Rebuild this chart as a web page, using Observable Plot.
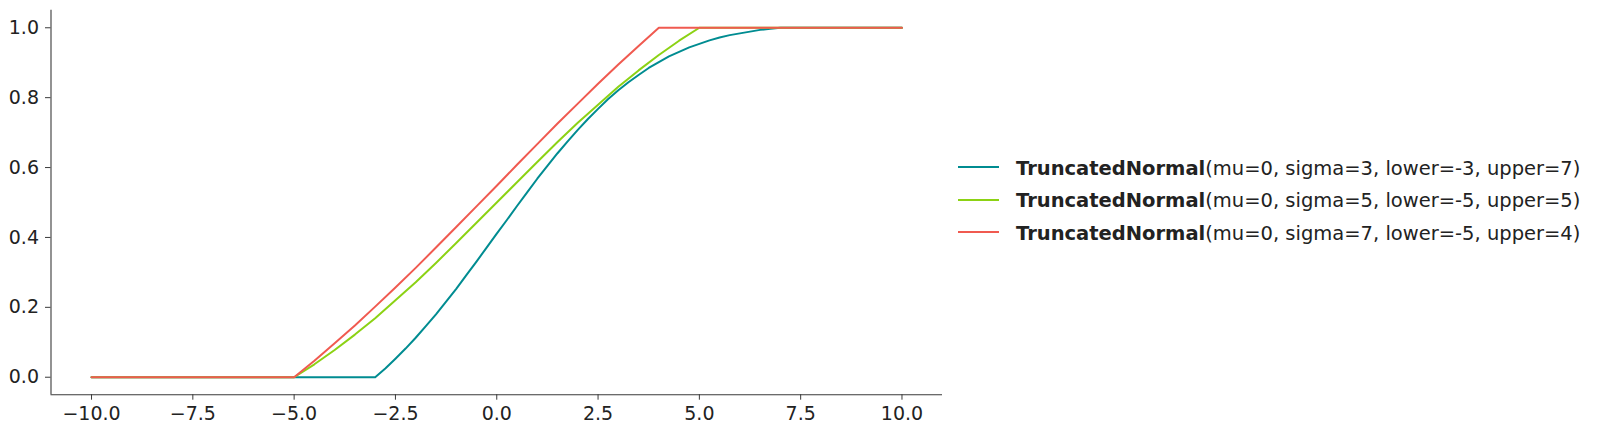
<!DOCTYPE html>
<html>
<head>
<meta charset="utf-8">
<script src="https://cdn.jsdelivr.net/npm/d3@7"></script>
<script src="https://cdn.jsdelivr.net/npm/@observablehq/plot@0.6"></script>
<style>
  html, body { margin: 0; padding: 0; background: #fff; }
  #wrap { position: relative; width: 1598px; height: 433px; font-family: "DejaVu Sans", sans-serif; }
  #legend { position: absolute; left: 958px; top: 151px; color: #222; font-size: 19.5px; }
  .row { display: flex; align-items: center; height: 32.6px; }
  .swatch { width: 41px; height: 0; border-top: 2px solid; margin-right: 17px; }
  .row span { white-space: nowrap; position: relative; top: 1px; }
</style>
</head>
<body>
<div id="wrap"><div id="legend"></div></div>
<script>
// Series: x positions and CDF values
const xs1 = [-10, -3, -2.75, -2.5, -2.25, -2, -1.75, -1.5, -1.25, -1, -0.75, -0.5, -0.25, 0, 0.25, 0.5, 0.75, 1, 1.25, 1.5, 1.75, 2, 2.25, 2.5, 2.75, 3, 3.25, 3.5, 3.75, 4, 4.25, 4.5, 4.75, 5, 5.25, 5.5, 5.75, 6, 6.25, 6.5, 6.75, 7, 10];
const ys1 = [0, 0, 0.025, 0.053, 0.082, 0.113, 0.146, 0.180, 0.216, 0.253, 0.292, 0.331, 0.371, 0.411, 0.450, 0.490, 0.529, 0.568, 0.605, 0.641, 0.675, 0.708, 0.739, 0.768, 0.796, 0.821, 0.844, 0.865, 0.885, 0.902, 0.918, 0.931, 0.944, 0.954, 0.964, 0.972, 0.979, 0.984, 0.989, 0.994, 0.997, 1, 1];

const xs2 = [-10, -5, -4.5, -4, -3.5, -3, -2.5, -2, -1.5, -1, -0.5, 0, 0.5, 1, 1.5, 2, 2.5, 3, 3.5, 4, 4.5, 5, 10];
const ys2 = [0, 0, 0.037, 0.078, 0.122, 0.169, 0.220, 0.272, 0.327, 0.384, 0.442, 0.5, 0.558, 0.616, 0.673, 0.728, 0.780, 0.831, 0.878, 0.922, 0.963, 1, 1];

const xs3 = [-10, -5, -4.5, -4, -3.5, -3, -2.5, -2, -1.5, -1, -0.5, 0, 0.5, 1, 1.5, 2, 2.5, 3, 3.5, 4, 10];
const ys3 = [0, 0, 0.047, 0.097, 0.148, 0.202, 0.257, 0.313, 0.371, 0.430, 0.489, 0.548, 0.608, 0.667, 0.726, 0.783, 0.840, 0.895, 0.948, 1, 1];

const seriesNames = [
  ["TruncatedNormal", "(mu=0, sigma=3, lower=-3, upper=7)"],
  ["TruncatedNormal", "(mu=0, sigma=5, lower=-5, upper=5)"],
  ["TruncatedNormal", "(mu=0, sigma=7, lower=-5, upper=4)"]
];
const colors = ["#008c91", "#8cd214", "#f05a50"];

const xTicks = [-10, -7.5, -5, -2.5, 0, 2.5, 5, 7.5, 10];
const yTicks = [0, 0.2, 0.4, 0.6, 0.8, 1.0];
const xDomain = [-11, 11];
const yDomain = [-0.05, 1.05];

const toRows = (xs, ys) => xs.map((x, i) => ({x, y: ys[i]}));
const series = [toRows(xs1, ys1), toRows(xs2, ys2), toRows(xs3, ys3)];

const fmt = d3.format(".1f");
const axisColor = "#3a3a3a";

const chart = Plot.plot({
  width: 1598,
  height: 433,
  marginLeft: 50.5,
  marginRight: 656,
  marginTop: 9.8,
  marginBottom: 38.8,
  style: { fontFamily: "DejaVu Sans, sans-serif", fontSize: "19px", color: "#222", background: "#fff" },
  x: { domain: xDomain },
  y: { domain: yDomain },
  marks: [
    Plot.ruleX([xDomain[0]], { stroke: axisColor, strokeWidth: 1.1 }),
    Plot.ruleY([yDomain[0]], { stroke: axisColor, strokeWidth: 1.1 }),
    Plot.axisX({ ticks: xTicks, tickFormat: fmt, tickSize: 5.5, tickPadding: 6, stroke: axisColor, fill: "#222", label: null, fontSize: 19 }),
    Plot.axisY({ ticks: yTicks, tickFormat: fmt, tickSize: 5.5, tickPadding: 6.5, stroke: axisColor, fill: "#222", label: null, fontSize: 19 }),
    ...series.map((s, i) => Plot.line(s, { x: "x", y: "y", stroke: colors[i], strokeWidth: 2, curve: "linear" }))
  ]
});
document.getElementById("wrap").prepend(chart);

const legend = document.getElementById("legend");
seriesNames.forEach(([b, rest], i) => {
  const row = document.createElement("div");
  row.className = "row";
  const sw = document.createElement("div");
  sw.className = "swatch";
  sw.style.borderTopColor = colors[i];
  const txt = document.createElement("span");
  const strong = document.createElement("b");
  strong.textContent = b;
  txt.appendChild(strong);
  txt.appendChild(document.createTextNode(rest));
  row.appendChild(sw);
  row.appendChild(txt);
  legend.appendChild(row);
});
</script>
</body>
</html>
